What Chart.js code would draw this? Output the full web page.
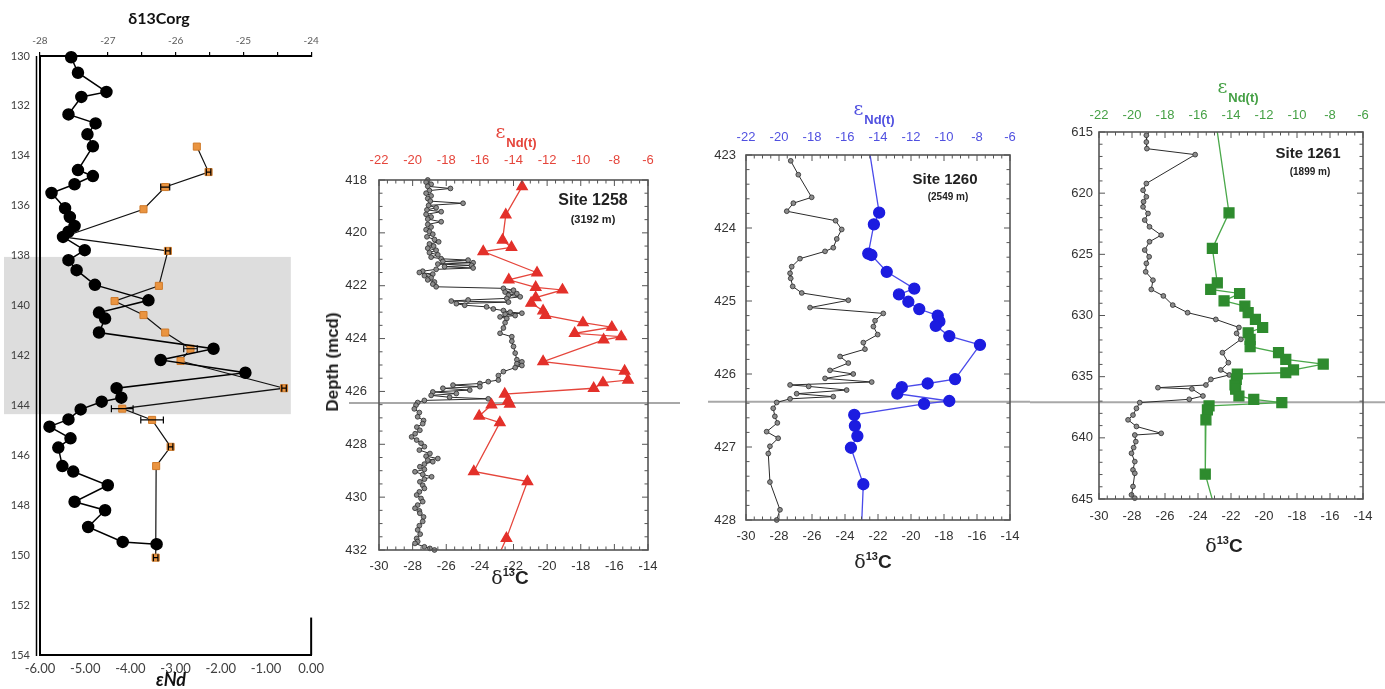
<!DOCTYPE html>
<html>
<head>
<meta charset="utf-8">
<script src="https://cdn.jsdelivr.net/npm/chart.js@4.4.1/dist/chart.umd.min.js"></script>
<style>
  html, body { margin: 0; padding: 0; background: #fff; }
  body { width: 1385px; height: 689px; position: relative; overflow: hidden; }
  canvas { position: absolute; }
  .lbl { position: absolute; transform: translate(-50%, -50%); white-space: nowrap;
         font-family: 'Liberation Sans', Arial, sans-serif; font-weight: bold; color: #222; }
  .eps .e { font: 19px 'DejaVu Serif', serif; }
  .eps .s { font: bold 13px 'Liberation Sans', Arial, sans-serif; position: relative; top: 9px; margin-left: 1px; }
  .dc .d { font: 19px 'DejaVu Serif', serif; }
  .dc .n { font: bold 11px 'Liberation Sans', Arial, sans-serif; position: relative; top: -8px; }
  .dc .c { font: bold 19px 'Liberation Sans', Arial, sans-serif; }
</style>
</head>
<body>
<canvas id="leftChart" width="330" height="689" style="left:0;top:0"></canvas>
<canvas id="site1258" width="380" height="500" style="left:320px;top:100px"></canvas>
<canvas id="site1260" width="330" height="520" style="left:700px;top:80px"></canvas>
<canvas id="site1261" width="355" height="560" style="left:1030px;top:40px"></canvas>

<div class="lbl" style="left:159px;top:17px;font:bold 16px Lato, sans-serif;color:#111">δ13Corg</div>
<div class="lbl" style="left:171px;top:679px;font:italic bold 18px Lato, sans-serif;color:#111">εNd</div>

<div class="lbl eps" style="left:516px;top:131px;color:#e5453b"><span class="e">ε</span><span class="s">Nd(t)</span></div>
<div class="lbl" style="left:593px;top:200px;font-size:16px">Site 1258</div>
<div class="lbl" style="left:593px;top:219px;font-size:11px">(3192 m)</div>
<div class="lbl" style="left:333px;top:362px;font-size:17px;transform:translate(-50%,-50%) rotate(-90deg)">Depth (mcd)</div>
<div class="lbl dc" style="left:510px;top:577px"><span class="d">δ</span><span class="n">13</span><span class="c">C</span></div>

<div class="lbl eps" style="left:874px;top:108px;color:#5050e0"><span class="e">ε</span><span class="s">Nd(t)</span></div>
<div class="lbl" style="left:945px;top:178px;font-size:15px">Site 1260</div>
<div class="lbl" style="left:948px;top:196px;font-size:10px">(2549 m)</div>
<div class="lbl dc" style="left:873px;top:561px"><span class="d">δ</span><span class="n">13</span><span class="c">C</span></div>

<div class="lbl eps" style="left:1238px;top:86px;color:#45a045"><span class="e">ε</span><span class="s">Nd(t)</span></div>
<div class="lbl" style="left:1308px;top:152px;font-size:15px">Site 1261</div>
<div class="lbl" style="left:1310px;top:171px;font-size:10px">(1899 m)</div>
<div class="lbl dc" style="left:1224px;top:545px"><span class="d">δ</span><span class="n">13</span><span class="c">C</span></div>

<script>
// left panel: d13Corg (top axis) and eNd (bottom axis) against depth
const leftDepth = [130.05, 130.67, 131.44, 131.64, 132.34, 132.7, 133.14, 133.62, 134.57, 134.81, 135.14, 135.49, 136.1, 136.45, 136.81, 137.04, 137.25, 137.78, 138.18, 138.58, 139.17, 139.79, 140.28, 140.52, 141.08, 141.73, 142.18, 142.69, 143.31, 143.69, 143.85, 144.16, 144.56, 144.85, 145.32, 145.69, 146.43, 146.65, 147.2, 147.86, 148.2, 148.87, 149.47, 149.56];
const leftD13C = [-27.54, -27.44, -27.02, -27.39, -27.58, -27.18, -27.3, -27.22, -27.44, -27.22, -27.49, -27.83, -27.63, -27.56, -27.49, -27.58, -27.66, -27.34, -27.58, -27.46, -27.19, -26.4, -27.13, -27.04, -27.13, -25.44, -26.22, -24.97, -26.87, -26.8, -27.09, -27.4, -27.58, -27.86, -27.55, -27.73, -27.67, -27.51, -27.0, -27.49, -27.04, -27.29, -26.78, -26.28];
const leftNdDepth = [133.63, 134.65, 135.25, 136.14, 137.25, 137.81, 139.21, 139.82, 140.38, 141.08, 141.73, 142.22, 143.31, 144.13, 144.58, 145.66, 146.43, 150.1];
const leftNd = [-2.53, -2.27, -3.23, -3.71, -5.49, -3.17, -3.37, -4.35, -3.71, -3.23, -2.67, -2.89, -0.6, -4.18, -3.52, -3.11, -3.43, -3.44];
const leftNdErr = [0, 0.05, 0.1, 0, 0, 0.05, 0, 0, 0, 0, 0.15, 0, 0.05, 0.24, 0.25, 0.05, 0, 0.05];
const bandDepth = [138.05, 144.35];

// Site 1258
const s1258Depth = [418.0, 418.08, 418.16, 418.24, 418.32, 418.4, 418.5, 418.6, 418.7, 418.8, 418.88, 418.96, 419.05, 419.13, 419.2, 419.3, 419.4, 419.48, 419.58, 419.68, 419.78, 419.88, 419.96, 420.05, 420.15, 420.25, 420.34, 420.42, 420.5, 420.58, 420.66, 420.75, 420.83, 420.92, 420.98, 421.03, 421.08, 421.13, 421.18, 421.23, 421.28, 421.33, 421.38, 421.45, 421.5, 421.56, 421.62, 421.7, 421.78, 421.86, 421.94, 422.04, 422.1, 422.17, 422.24, 422.3, 422.36, 422.42, 422.48, 422.54, 422.58, 422.62, 422.68, 422.74, 422.8, 422.88, 422.94, 423.0, 423.04, 423.08, 423.13, 423.18, 423.24, 423.4, 423.6, 423.8, 423.93, 424.1, 424.3, 424.55, 424.8, 424.88, 424.95, 425.02, 425.1, 425.25, 425.4, 425.57, 425.63, 425.7, 425.76, 425.82, 425.88, 425.95, 426.02, 426.08, 426.15, 426.22, 426.28, 426.34, 426.42, 426.52, 426.66, 426.8, 426.96, 427.1, 427.22, 427.35, 427.47, 427.6, 427.72, 427.84, 427.96, 428.09, 428.22, 428.35, 428.45, 428.54, 428.6, 428.66, 428.75, 428.85, 428.95, 429.04, 429.14, 429.23, 429.32, 429.42, 429.55, 429.67, 429.8, 429.92, 430.05, 430.17, 430.3, 430.42, 430.52, 430.61, 430.75, 430.92, 431.08, 431.24, 431.4, 431.56, 431.68, 431.75, 431.88, 431.94, 432.0];
const s1258D13C = [-27.1, -27.2, -26.9, -27.1, -25.75, -27.0, -27.2, -26.9, -27.1, -26.95, -25.0, -27.05, -26.6, -27.15, -26.3, -27.2, -26.9, -27.1, -26.3, -27.1, -26.9, -27.2, -27.0, -26.8, -27.15, -26.7, -26.45, -27.0, -26.75, -27.1, -26.6, -27.0, -26.5, -26.9, -26.3, -24.7, -26.2, -24.4, -26.5, -24.5, -26.1, -24.4, -26.6, -27.4, -27.6, -26.8, -27.3, -26.9, -27.1, -26.7, -26.8, -26.6, -22.6, -22.0, -22.5, -21.8, -22.3, -21.6, -22.4, -24.7, -25.7, -22.3, -25.4, -24.9, -23.6, -23.2, -22.6, -22.2, -21.5, -22.5, -21.9, -22.8, -22.4, -22.5, -22.6, -22.8, -22.1, -22.1, -22.0, -21.9, -21.8, -21.5, -21.8, -21.5, -21.9, -22.6, -22.9, -22.9, -23.5, -24.0, -25.6, -24.0, -26.2, -24.6, -26.8, -25.4, -26.9, -25.8, -23.5, -27.3, -27.7, -27.8, -27.9, -27.6, -27.7, -27.35, -27.4, -27.75, -27.57, -27.85, -28.06, -27.76, -27.5, -27.3, -27.6, -26.97, -27.2, -26.5, -27.1, -26.8, -27.3, -27.57, -27.3, -27.86, -27.4, -26.87, -27.3, -27.57, -27.4, -27.3, -27.6, -27.76, -27.5, -27.4, -27.7, -27.86, -27.6, -27.57, -27.35, -27.4, -27.6, -27.7, -27.55, -27.76, -27.7, -27.86, -27.3, -26.97, -26.7];
const s1258NdDepth = [418.25, 419.32, 420.27, 420.55, 420.71, 421.51, 421.78, 422.06, 422.16, 422.45, 422.66, 422.95, 423.12, 423.4, 423.57, 423.8, 423.93, 424.05, 424.87, 425.23, 425.57, 425.67, 425.88, 426.1, 426.35, 426.48, 426.51, 426.93, 427.18, 429.03, 429.41, 431.56, 432.3];
const s1258Nd = [-13.49, -14.46, -14.65, -14.12, -15.8, -12.6, -14.28, -12.68, -11.09, -12.68, -12.95, -12.24, -12.1, -9.87, -8.15, -10.36, -7.59, -8.64, -12.24, -7.39, -7.19, -8.68, -9.23, -14.52, -14.32, -14.22, -15.31, -16.04, -14.81, -16.36, -13.17, -14.42, -14.95];

// Site 1260
const s1260Depth = [423.08, 423.27, 423.58, 423.66, 423.77, 423.9, 424.02, 424.15, 424.27, 424.32, 424.42, 424.53, 424.62, 424.69, 424.8, 424.89, 424.99, 425.09, 425.17, 425.27, 425.35, 425.46, 425.57, 425.66, 425.76, 425.85, 425.95, 426.0, 426.06, 426.11, 426.15, 426.17, 426.22, 426.27, 426.31, 426.34, 426.39, 426.47, 426.58, 426.67, 426.79, 426.88, 426.99, 427.09, 427.48, 427.86, 428.0];
const s1260D13C = [-27.29, -26.83, -26.02, -27.13, -27.53, -24.57, -24.2, -24.5, -24.71, -25.21, -26.73, -27.23, -27.33, -27.29, -27.17, -26.62, -23.8, -26.12, -21.68, -22.18, -22.28, -22.02, -22.89, -22.79, -24.3, -23.8, -24.91, -23.5, -25.21, -22.38, -27.33, -26.2, -23.9, -26.93, -24.71, -27.33, -28.14, -28.35, -28.25, -28.1, -28.75, -28.05, -28.55, -28.65, -28.55, -27.94, -28.14];
const s1260NdDepth = [422.9, 423.79, 423.95, 424.35, 424.37, 424.6, 424.83, 424.91, 425.01, 425.11, 425.2, 425.28, 425.34, 425.48, 425.6, 426.07, 426.13, 426.18, 426.27, 426.37, 426.41, 426.56, 426.71, 426.85, 427.01, 427.51, 428.1];
const s1260Nd = [-14.55, -13.93, -14.25, -14.59, -14.4, -13.47, -11.8, -12.73, -12.16, -11.5, -10.38, -10.28, -10.5, -9.68, -7.82, -9.33, -10.99, -12.56, -12.83, -9.68, -11.21, -15.44, -15.4, -15.25, -15.64, -14.89, -15.0];

// Site 1261
const s1261Depth = [615.27, 615.82, 616.36, 616.85, 619.21, 619.76, 620.3, 620.7, 621.12, 621.66, 622.2, 622.75, 623.43, 623.97, 624.65, 625.2, 625.74, 626.43, 627.11, 627.87, 628.4, 629.15, 629.77, 630.32, 630.98, 631.46, 631.95, 633.04, 633.86, 634.45, 634.86, 635.22, 635.68, 635.9, 636.0, 636.58, 636.85, 637.12, 637.59, 638.14, 638.53, 639.07, 639.63, 639.77, 640.31, 640.8, 641.26, 641.94, 642.62, 642.9, 643.98, 644.66, 644.93];
const s1261D13C = [-27.13, -27.13, -27.1, -24.17, -27.13, -27.33, -27.13, -27.3, -27.33, -27.03, -27.23, -26.94, -26.23, -26.94, -27.23, -26.96, -27.13, -27.17, -26.73, -26.83, -26.1, -25.53, -24.63, -22.92, -21.52, -21.66, -21.4, -22.52, -22.16, -22.62, -22.1, -23.22, -23.52, -26.43, -24.37, -23.7, -24.53, -27.53, -27.73, -27.94, -28.24, -27.73, -26.23, -27.83, -27.77, -27.9, -28.03, -27.83, -27.94, -27.83, -27.94, -28.03, -27.83];
const s1261NdDepth = [614.8, 621.61, 624.52, 627.33, 627.87, 628.2, 628.8, 629.23, 629.77, 630.32, 630.98, 631.41, 631.95, 632.55, 633.04, 633.59, 633.97, 634.45, 634.68, 634.78, 635.22, 635.68, 636.03, 636.58, 636.85, 637.12, 637.39, 637.72, 638.53, 642.97, 645.2];
const s1261Nd = [-14.85, -14.12, -15.13, -14.83, -15.23, -13.48, -14.42, -13.16, -12.96, -12.52, -12.08, -12.96, -12.84, -12.84, -11.12, -10.68, -8.41, -10.21, -10.68, -13.62, -13.68, -13.76, -13.72, -13.52, -12.62, -10.92, -15.33, -15.43, -15.52, -15.56, -15.1];

function toPoints(xs, ys) {
  return xs.map((x, i) => ({ x, y: ys[i] }));
}

function isMajor(v, step) {
  return Math.abs(v / step - Math.round(v / step)) < 1e-6;
}

// inward ticks on all four sides plus the frame
const boxTicks = {
  id: 'boxTicks',
  afterDraw(chart, args, o) {
    const { ctx, chartArea: a, scales } = chart;
    const xs = scales.x, ys = scales.y;
    ctx.save();
    ctx.strokeStyle = '#555';
    ctx.lineWidth = 1;
    ctx.beginPath();
    for (let v = xs.min; v <= xs.max + 1e-9; v += o.xMinor) {
      const px = xs.getPixelForValue(v);
      const len = isMajor(v, o.xMajor) ? 6 : 3.5;
      ctx.moveTo(px, a.bottom); ctx.lineTo(px, a.bottom - len);
      ctx.moveTo(px, a.top); ctx.lineTo(px, a.top + len);
    }
    for (let v = ys.min; v <= ys.max + 1e-9; v += o.yMinor) {
      const py = ys.getPixelForValue(v);
      const len = isMajor(v - ys.min, o.yMajor) ? 6 : 3.5;
      ctx.moveTo(a.left, py); ctx.lineTo(a.left + len, py);
      ctx.moveTo(a.right, py); ctx.lineTo(a.right - len, py);
    }
    ctx.stroke();
    ctx.lineWidth = 1.6;
    ctx.strokeRect(a.left, a.top, a.width, a.height);
    ctx.restore();
  }
};

// grey horizontal marker across the panel
const depthLine = {
  id: 'depthLine',
  beforeDatasetsDraw(chart, args, o) {
    const { ctx, scales } = chart;
    const y = scales.y.getPixelForValue(o.depth);
    ctx.save();
    ctx.strokeStyle = '#a8a8a8';
    ctx.lineWidth = 2;
    ctx.beginPath();
    ctx.moveTo(o.from, y);
    ctx.lineTo(o.to, y);
    ctx.stroke();
    ctx.restore();
  }
};

const leftDecor = {
  id: 'leftDecor',
  beforeDraw(chart) {
    const { ctx, scales } = chart;
    const top = scales.y.getPixelForValue(bandDepth[0]);
    const bottom = scales.y.getPixelForValue(bandDepth[1]);
    const right = scales.x.getPixelForValue(-0.45);
    ctx.save();
    ctx.fillStyle = '#dddddd';
    ctx.fillRect(4, top, right - 4, bottom - top);
    ctx.restore();
  },
  afterDraw(chart) {
    const { ctx, chartArea: a, scales } = chart;
    ctx.save();
    ctx.strokeStyle = '#000';
    ctx.lineWidth = 1.5;
    ctx.beginPath();
    ctx.moveTo(a.left - 3.5, a.top);
    ctx.lineTo(a.left - 3.5, a.bottom + 1);
    ctx.stroke();
    ctx.lineWidth = 2;
    ctx.beginPath();
    ctx.moveTo(a.right, scales.y.getPixelForValue(152.5));
    ctx.lineTo(a.right, a.bottom);
    ctx.stroke();
    ctx.restore();
  },
  afterDatasetsDraw(chart) {
    const { ctx, scales } = chart;
    ctx.save();
    ctx.strokeStyle = '#000';
    ctx.lineWidth = 1.2;
    ctx.beginPath();
    leftNd.forEach((v, i) => {
      const e = leftNdErr[i];
      if (!e) return;
      const y = scales.y.getPixelForValue(leftNdDepth[i]);
      const x1 = scales.x.getPixelForValue(v - e);
      const x2 = scales.x.getPixelForValue(v + e);
      ctx.moveTo(x1, y); ctx.lineTo(x2, y);
      ctx.moveTo(x1, y - 3.5); ctx.lineTo(x1, y + 3.5);
      ctx.moveTo(x2, y - 3.5); ctx.lineTo(x2, y + 3.5);
    });
    ctx.stroke();
    ctx.restore();
  }
};

const noGrid = { display: false, drawTicks: false, tickLength: 0 };

new Chart(document.getElementById('leftChart'), {
  type: 'scatter',
  data: {
    datasets: [
      {
        data: toPoints(leftD13C, leftDepth),
        xAxisID: 'xTop',
        showLine: true,
        borderColor: '#000',
        borderWidth: 1.5,
        pointRadius: 5.5,
        pointBackgroundColor: '#000',
        pointBorderColor: '#000',
        clip: false,
        order: 0
      },
      {
        data: toPoints(leftNd, leftNdDepth),
        xAxisID: 'x',
        showLine: true,
        borderColor: '#111',
        borderWidth: 1.2,
        pointStyle: 'rect',
        pointRadius: 5,
        pointBackgroundColor: '#ea9440',
        pointBorderColor: '#cf7a2a',
        pointBorderWidth: 1,
        clip: false,
        order: 1
      }
    ]
  },
  options: {
    responsive: false,
    animation: false,
    layout: { padding: { left: 0, right: 18, top: 0, bottom: 0 } },
    plugins: { legend: { display: false }, tooltip: { enabled: false } },
    scales: {
      xTop: {
        type: 'linear', position: 'top', min: -28, max: -24,
        ticks: {
          stepSize: 0.5, autoSkip: false, maxRotation: 0, padding: 5,
          color: '#5a5a5a', font: { family: 'Lato', size: 10 },
          callback: v => isMajor(v, 1) ? String(Math.round(v)) : ''
        },
        grid: { display: true, drawOnChartArea: false, tickLength: 4, color: '#000', lineWidth: 1.2 },
        border: { display: true, color: '#000', width: 2 },
        afterFit: s => { s.height = 56; }
      },
      x: {
        type: 'linear', position: 'bottom', min: -6, max: 0,
        ticks: {
          stepSize: 1, autoSkip: false, maxRotation: 0, padding: 6,
          color: '#404040', font: { family: 'Lato', size: 13 },
          callback: v => v.toFixed(2)
        },
        grid: noGrid,
        border: { display: true, color: '#000', width: 2 },
        afterFit: s => { s.height = 34; }
      },
      y: {
        type: 'linear', reverse: true, min: 130, max: 154,
        ticks: { stepSize: 2, padding: 10, color: '#404040', font: { family: 'Lato', size: 11 } },
        grid: noGrid,
        border: { display: true, color: '#000', width: 2 },
        afterFit: s => { s.width = 40; }
      }
    }
  },
  plugins: [leftDecor]
});

function siteChart(id, s) {
  const inside = d => d >= s.yMin && d <= s.yMax;
  const tickFont = { family: 'Liberation Sans', size: 13 };
  return new Chart(document.getElementById(id), {
    type: 'scatter',
    data: {
      datasets: [
        {
          data: toPoints(s.nd, s.ndDepth),
          xAxisID: 'xTop',
          showLine: true,
          borderColor: s.lineColor,
          borderWidth: 1.3,
          pointStyle: s.marker,
          pointRadius: s.ndDepth.map(d => inside(d) ? s.markerSize : 0),
          pointBackgroundColor: s.fill,
          pointBorderColor: s.fill,
          order: 0
        },
        {
          data: toPoints(s.d13c, s.depth),
          xAxisID: 'x',
          showLine: true,
          borderColor: '#2b2b2b',
          borderWidth: 1,
          pointRadius: 2.4,
          pointBackgroundColor: '#8c8c8c',
          pointBorderColor: '#2b2b2b',
          pointBorderWidth: 0.8,
          clip: 4,
          order: 1
        }
      ]
    },
    options: {
      responsive: false,
      animation: false,
      layout: { padding: { left: 0, right: s.padRight, top: 0, bottom: 0 } },
      plugins: {
        legend: { display: false },
        tooltip: { enabled: false },
        boxTicks: { xMinor: 0.5, xMajor: 2, yMinor: s.yMinor, yMajor: s.yStep },
        depthLine: { depth: s.markDepth, from: s.lineFrom, to: s.lineTo }
      },
      scales: {
        xTop: {
          type: 'linear', position: 'top', min: -22, max: -6,
          ticks: { stepSize: 2, autoSkip: false, maxRotation: 0, padding: s.topPad, color: s.tickColor, font: tickFont },
          grid: noGrid,
          border: { display: false },
          afterFit: sc => { sc.height = s.topH; }
        },
        x: {
          type: 'linear', position: 'bottom', min: -30, max: -14,
          ticks: { stepSize: 2, autoSkip: false, maxRotation: 0, padding: s.bottomPad, color: '#333', font: tickFont },
          grid: noGrid,
          border: { display: false },
          afterFit: sc => { sc.height = s.bottomH; }
        },
        y: {
          type: 'linear', reverse: true, min: s.yMin, max: s.yMax,
          ticks: { stepSize: s.yStep, padding: s.leftPad, color: '#333', font: tickFont },
          grid: noGrid,
          border: { display: false },
          afterFit: sc => { sc.width = s.leftW; }
        }
      }
    },
    plugins: [depthLine, boxTicks]
  });
}

siteChart('site1258', {
  depth: s1258Depth, d13c: s1258D13C, ndDepth: s1258NdDepth, nd: s1258Nd,
  yMin: 418, yMax: 432, yStep: 2, yMinor: 0.5, markDepth: 426.44,
  lineFrom: 29, lineTo: 360,
  marker: 'triangle', markerSize: 6, fill: '#e3302a', lineColor: '#e5453b', tickColor: '#e5453b',
  leftW: 59, topH: 80, bottomH: 50, padRight: 52, leftPad: 12, topPad: 12, bottomPad: 9
});

siteChart('site1260', {
  depth: s1260Depth, d13c: s1260D13C, ndDepth: s1260NdDepth, nd: s1260Nd,
  yMin: 423, yMax: 428, yStep: 1, yMinor: 0.2, markDepth: 426.38,
  lineFrom: 8, lineTo: 330,
  marker: 'circle', markerSize: 5.5, fill: '#1c1ce0', lineColor: '#4a4aea', tickColor: '#5050e0',
  leftW: 46, topH: 75, bottomH: 80, padRight: 20, leftPad: 10, topPad: 10, bottomPad: 9
});

siteChart('site1261', {
  depth: s1261Depth, d13c: s1261D13C, ndDepth: s1261NdDepth, nd: s1261Nd,
  yMin: 615, yMax: 645, yStep: 5, yMinor: 1, markDepth: 637.09,
  lineFrom: 0, lineTo: 355,
  marker: 'rect', markerSize: 7, fill: '#2e8b2e', lineColor: '#4aa84a', tickColor: '#45a045',
  leftW: 69, topH: 92, bottomH: 101, padRight: 22, leftPad: 6, topPad: 9, bottomPad: 10
});
</script>
</body>
</html>
